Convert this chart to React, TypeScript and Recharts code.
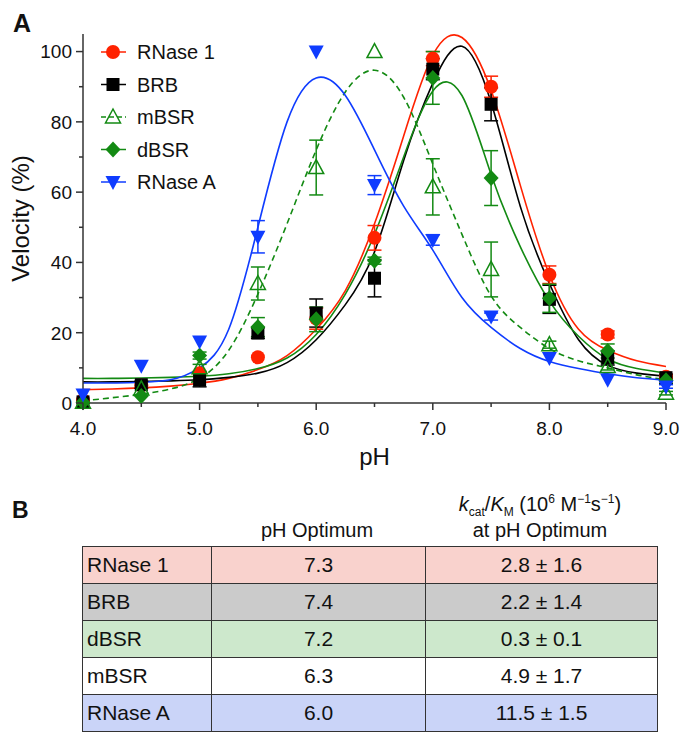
import React from 'react';
import {
  ComposedChart,
  Line,
  Scatter,
  ErrorBar,
  XAxis,
  YAxis,
  Legend,
  Label,
} from 'recharts';

// measured points (pH vs velocity %)
const phPoints = [4.0, 4.5, 5.0, 5.5, 6.0, 6.5, 7.0, 7.5, 8.0, 8.5, 9.0];

const rnase1Vel = [0.8, 5, 8.5, 13, 24, 47, 98, 90, 36.5, 19.5, 7.5];
const rnase1Err = [0, 0, 0, 0, 3, 3.5, 2, 3, 2.5, 1, 0.5];

const brbVel = [0.3, 5.2, 6.6, 19.9, 25.6, 35.5, 95, 85, 29.5, 12.8, 7.2];
const brbErr = [0, 1, 2, 1.5, 4, 5.3, 3, 4.7, 4, 2, 1];

const mbsrVel = [0.2, 4, 10, 34, 67, 100, 61.5, 38, 16.6, 10.4, 2.8];
const mbsrErr = [0, 0, 1, 4.7, 7.8, 0, 8, 7.8, 1, 1, 0.5];

const dbsrVel = [0.2, 2, 13.5, 21.6, 23.8, 40.5, 92.5, 64, 29.8, 14.8, 6.5];
const dbsrErr = [0, 0, 1, 2.7, 3.5, 1, 7.5, 7.8, 4, 2, 1];

const rnaseAVel = [2.4, 10.6, 17.5, 47.3, 100, 62, 46.4, 24.6, 12.8, 6.6, 4.7];
const rnaseAErr = [0, 0, 0, 4.6, 0, 2.7, 1.5, 1, 0, 0, 0.5];

// fitted curves
const fitPh = [4.0, 4.25, 4.5, 4.75, 5.0, 5.25, 5.5, 5.75, 6.0, 6.25, 6.5, 6.75, 7.0, 7.25, 7.5, 7.75, 8.0, 8.25, 8.5, 8.75, 9.0];
const rnase1Fit = [3.8, 4.0, 4.3, 4.8, 5.6, 7.0, 9.5, 13.5, 21, 32, 51, 76, 99, 104, 89, 62, 36.5, 21, 15, 12, 10.4];
const brbFit = [6.0, 6.0, 6.1, 6.3, 6.6, 7.3, 8.5, 11.5, 18, 28, 43, 69, 91, 101.5, 85.5, 56, 34, 18, 10.7, 8.5, 7.6];
const mbsrFit = [0.6, 1.5, 2.5, 4, 7, 15, 31, 51, 72, 88.5, 94.7, 87, 68, 48, 30.5, 21.5, 15.5, 12, 10, 8, 6.6];
const dbsrFit = [7.0, 7.0, 7.1, 7.3, 7.6, 8.3, 9.8, 12.8, 19.5, 31, 48, 70, 88.8, 87.5, 65, 44.5, 29, 19, 12.5, 9.8, 8.5];
const rnaseAFit = [5.7, 5.7, 5.9, 6.6, 10, 21, 50, 80, 92.5, 87.5, 72, 56, 43.5, 30, 21.5, 15.5, 11.8, 9.8, 8.3, 7.2, 6.5];

const xTicks = [4.0, 4.5, 5.0, 5.5, 6.0, 6.5, 7.0, 7.5, 8.0, 8.5, 9.0];
const yTicks = [0, 10, 20, 30, 40, 50, 60, 70, 80, 90, 100];

// table (panel B)
const tableNames = ['RNase 1', 'BRB', 'dBSR', 'mBSR', 'RNase A'];
const phOptimum = ['7.3', '7.4', '7.2', '6.3', '6.0'];
const kcatKm = ['2.8 ± 1.6', '2.2 ± 1.4', '0.3 ± 0.1', '4.9 ± 1.7', '11.5 ± 1.5'];
const rowColors = ['#f9d2cd', '#cbcbcb', '#cde8cc', '#ffffff', '#cad4f8'];

const FONT = '"Liberation Sans", Arial, Helvetica, sans-serif';
const AXIS = '#333';
const RED = '#ff2200';
const GREEN = '#138a13';
const BLUE = '#0f3cff';

const pts = (vel: number[], err: number[]) =>
  phPoints.map((x, i) => ({ x, y: vel[i], err: err[i] }));
const fit = (vals: number[]) => fitPh.map((x, i) => ({ x, y: vals[i] }));

const Circle = ({ cx, cy }: any) => <circle cx={cx} cy={cy} r={7} fill={RED} />;
const Square = ({ cx, cy }: any) => <rect x={cx - 6.5} y={cy - 6.5} width={13} height={13} fill="#000" />;
const TriUp = ({ cx, cy }: any) => (
  <path d={`M${cx},${cy - 8}L${cx + 7.5},${cy + 6}L${cx - 7.5},${cy + 6}Z`} fill="none" stroke={GREEN} strokeWidth={1.5} />
);
const Diamond = ({ cx, cy }: any) => (
  <path d={`M${cx},${cy - 8}L${cx + 7.5},${cy}L${cx},${cy + 8}L${cx - 7.5},${cy}Z`} fill={GREEN} />
);
const TriDown = ({ cx, cy }: any) => (
  <path d={`M${cx - 7.5},${cy - 6}L${cx + 7.5},${cy - 6}L${cx},${cy + 8}Z`} fill={BLUE} />
);

const series = [
  { name: 'RNase 1', color: RED, Shape: Circle, dash: undefined },
  { name: 'BRB', color: '#000', Shape: Square, dash: undefined },
  { name: 'mBSR', color: GREEN, Shape: TriUp, dash: '6 4' },
  { name: 'dBSR', color: GREEN, Shape: Diamond, dash: undefined },
  { name: 'RNase A', color: BLUE, Shape: TriDown, dash: undefined },
];

const XTick = ({ x, y, payload }: any) => {
  const v = payload.value;
  const major = Number.isInteger(v);
  return (
    <g>
      <line x1={x} x2={x} y1={y} y2={y + (major ? 7 : 4)} stroke={AXIS} strokeWidth={1.5} />
      {major && (
        <text x={x} y={y + 32} textAnchor="middle" fontSize={19} fontFamily={FONT} fill="#111">
          {v.toFixed(1)}
        </text>
      )}
    </g>
  );
};

const YTick = ({ x, y, payload }: any) => {
  const v = payload.value;
  const major = v % 20 === 0;
  return (
    <g>
      <line x1={x - (major ? 7 : 4)} x2={x} y1={y} y2={y} stroke={AXIS} strokeWidth={1.5} />
      {major && (
        <text x={x - 11} y={y} dy="0.36em" textAnchor="end" fontSize={19} fontFamily={FONT} fill="#111">
          {v}
        </text>
      )}
    </g>
  );
};

const renderLegend = () => (
  <svg width={200} height={170} style={{ overflow: 'visible' }}>
    {series.map((s, i) => {
      const cy = 17 + i * 32.5;
      const { Shape } = s;
      return (
        <g key={s.name}>
          <line x1={6} x2={31} y1={cy} y2={cy} stroke={s.color} strokeWidth={1.5} strokeDasharray={s.dash ? '5 3' : undefined} />
          <Shape cx={18} cy={cy} />
          <text x={42} y={cy} dy="0.36em" fontSize={20} fontFamily={FONT} fill="#111">
            {s.name}
          </text>
        </g>
      );
    })}
  </svg>
);

const small: React.CSSProperties = { fontSize: 12, lineHeight: 0 };

export default function App() {
  const pointSets = [
    pts(rnase1Vel, rnase1Err),
    pts(brbVel, brbErr),
    pts(mbsrVel, mbsrErr),
    pts(dbsrVel, dbsrErr),
    pts(rnaseAVel, rnaseAErr),
  ];
  const fitSets = [fit(rnase1Fit), fit(brbFit), fit(mbsrFit), fit(dbsrFit), fit(rnaseAFit)];

  const cell: React.CSSProperties = {
    border: '1.5px solid #333',
    height: 36,
    padding: 0,
    fontSize: 21,
  };

  return (
    <div style={{ position: 'absolute', left: 0, top: 0, width: 680, height: 734, overflow: 'hidden', background: '#fff', fontFamily: FONT, color: '#111' }}>
      <div style={{ position: 'absolute', left: 13, top: 9, fontSize: 25, fontWeight: 'bold' }}>A</div>
      <div style={{ position: 'absolute', left: 12, top: 497, fontSize: 23, fontWeight: 'bold' }}>B</div>

      <ComposedChart width={680} height={480} margin={{ top: 34, right: 14, bottom: 0, left: 0 }}>
        <XAxis
          dataKey="x"
          type="number"
          domain={[4, 9]}
          ticks={xTicks}
          allowDuplicatedCategory={false}
          height={77}
          tickSize={0}
          tickMargin={0}
          tickLine={false}
          tick={<XTick />}
          axisLine={{ stroke: AXIS, strokeWidth: 1.5 }}
        >
          <Label value="pH" position="insideBottom" offset={15} style={{ fontSize: 24, fontFamily: FONT, fill: '#111' }} />
        </XAxis>
        <YAxis
          type="number"
          domain={[0, 105]}
          ticks={yTicks}
          width={83}
          tickSize={0}
          tickMargin={0}
          tickLine={false}
          tick={<YTick />}
          axisLine={{ stroke: AXIS, strokeWidth: 1.5 }}
        >
          <Label
            value="Velocity (%)"
            angle={-90}
            position="insideLeft"
            offset={20}
            style={{ fontSize: 24, fontFamily: FONT, fill: '#111', textAnchor: 'middle' }}
          />
        </YAxis>
        <Legend
          layout="vertical"
          align="center"
          verticalAlign="middle"
          content={renderLegend}
          wrapperStyle={{ left: 95, top: 35, width: 200, height: 170 }}
        />
        {series.map((s, i) => (
          <Line
            key={'fit-' + s.name}
            data={fitSets[i]}
            dataKey="y"
            type="natural"
            stroke={s.color}
            strokeWidth={1.6}
            strokeDasharray={s.dash}
            dot={false}
            activeDot={false}
            legendType="none"
            isAnimationActive={false}
          />
        ))}
        {series.map((s, i) => (
          <Scatter
            key={'pts-' + s.name}
            name={s.name}
            data={pointSets[i]}
            dataKey="y"
            shape={s.Shape}
            isAnimationActive={false}
          >
            <ErrorBar dataKey="err" direction="y" width={7} stroke={s.color} strokeWidth={1.5} />
          </Scatter>
        ))}
      </ComposedChart>

      {/* panel B table */}
      <div style={{ position: 'absolute', left: 210, width: 214, top: 518, textAlign: 'center', fontSize: 20, lineHeight: '24px' }}>
        pH Optimum
      </div>
      <div style={{ position: 'absolute', left: 424, width: 232, top: 492, textAlign: 'center', fontSize: 20, lineHeight: '24px', whiteSpace: 'nowrap' }}>
        <i>k</i>
        <sub style={small}>cat</sub>/<i>K</i>
        <sub style={small}>M</sub> (10<sup style={small}>6</sup> M<sup style={small}>−1</sup>s<sup style={small}>−1</sup>)
      </div>
      <div style={{ position: 'absolute', left: 424, width: 232, top: 518, textAlign: 'center', fontSize: 20, lineHeight: '24px' }}>
        at pH Optimum
      </div>
      <table
        style={{
          position: 'absolute',
          left: 82,
          top: 546,
          borderCollapse: 'collapse',
          fontFamily: FONT,
          color: '#111',
        }}
      >
        <tbody>
          {tableNames.map((n, i) => (
            <tr key={n} style={{ background: rowColors[i] }}>
              <td style={{ ...cell, width: 124, paddingLeft: 4, textAlign: 'left' }}>{n}</td>
              <td style={{ ...cell, width: 213, textAlign: 'center' }}>{phOptimum[i]}</td>
              <td style={{ ...cell, width: 231, textAlign: 'center' }}>{kcatKm[i]}</td>
            </tr>
          ))}
        </tbody>
      </table>
    </div>
  );
}
